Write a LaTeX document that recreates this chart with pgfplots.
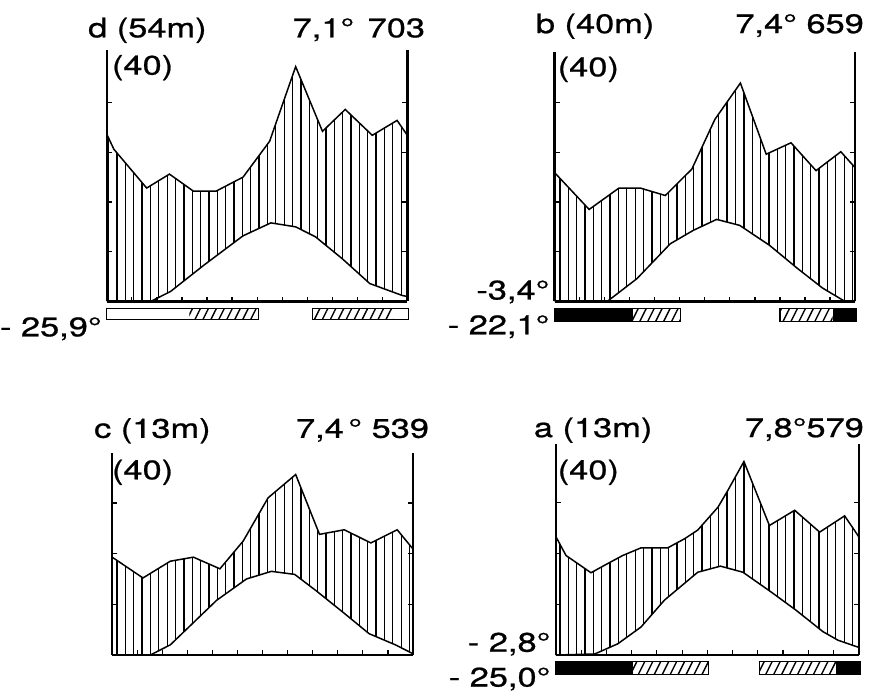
\documentclass[border=0pt]{standalone}
\usepackage{fontspec}
\setmainfont{TeX Gyre Heros}[FakeStretch=1.28, FakeBold=0.8]
\usepackage{pgfplots}
\pgfplotsset{compat=1.18}
\usepgfplotslibrary{fillbetween}
\usetikzlibrary{patterns}

\pgfdeclarepatternformonly{vl}{\pgfqpoint{-1pt}{-1pt}}{\pgfqpoint{1pt}{5pt}}{\pgfqpoint{8.4pt}{4pt}}{%
  \pgfsetlinewidth{1.3pt}%
  \pgfpathmoveto{\pgfqpoint{0pt}{-0.1pt}}%
  \pgfpathlineto{\pgfqpoint{0pt}{4.1pt}}%
  \pgfusepath{stroke}}
\pgfdeclarepatternformonly{dg}{\pgfqpoint{-1pt}{-1pt}}{\pgfqpoint{9pt}{17pt}}{\pgfqpoint{8pt}{16pt}}{%
  \pgfsetlinewidth{1.4pt}%
  \pgfpathmoveto{\pgfqpoint{0pt}{0pt}}%
  \pgfpathlineto{\pgfqpoint{8.05pt}{16.1pt}}%
  \pgfusepath{stroke}}

\pgfplotsset{
  panel/.style={
    scale only axis, xmin=0, xmax=12, ymin=0, clip=false,
    axis x line*=bottom, axis y line*=box,
    axis line style={line width=2.4pt},
    every outer x axis line/.append style={line width=3pt},
    every outer y axis line/.append style={line width=2.4pt},
    x axis line style={line width=3pt},
    y axis line style={line width=2.4pt},
    xtick={1,...,11}, ytick={10,20,30,40},
    xticklabels={}, yticklabels={},
    tick align=inside, major tick length=5pt,
    tick style={line width=1.2pt,black},
    anchor=south west,
  },
  curve/.style={black, line width=1.5pt, no markers},
  barout/.style={draw=black, line width=1.2pt},
}

\begin{document}
\begin{tikzpicture}[font=\fontsize{27}{31}\selectfont]
\path (0,0) rectangle (872pt,697pt);

% ---------------- d ----------------
\begin{axis}[panel, at={(103pt,394pt)}, width=302pt, height=253pt, ymax=50.6]
\addplot[curve, name path=up] coordinates {(0,33.6) (0.28,30.6) (1.59,22.8) (2.5,25.6) (3.45,22.2) (4.37,22.2) (5.44,25) (6.5,32.2) (7.54,47.2) (8.61,34.2) (9.52,38.6) (10.6,33.4) (11.59,36.4) (12,33.4)};
\addplot[curve, name path=lo] coordinates {(0,0) (1.75,0) (2.54,2) (3.85,7.2) (5.44,13.2) (6.55,15.8) (7.54,15) (8.33,13) (9.4,8.6) (10.5,3.6) (11.8,1.2) (12,1)};
\addplot[pattern=vl, draw=none] fill between[of=up and lo];
\addplot[pattern=dg, draw=none] coordinates {(3.3,-1.4) (6.07,-1.4) (6.07,-3.6) (3.3,-3.6)} --cycle;
\addplot[barout] coordinates {(0,-1.4) (6.07,-1.4) (6.07,-3.6) (0,-3.6)} --cycle;
\addplot[pattern=dg, draw=none] coordinates {(8.21,-1.4) (11.45,-1.4) (11.45,-3.6) (8.21,-3.6)} --cycle;
\addplot[barout] coordinates {(8.21,-1.4) (12.05,-1.4) (12.05,-3.6) (8.21,-3.6)} --cycle;
\end{axis}

% ---------------- b ----------------
\begin{axis}[panel, at={(553pt,394pt)}, width=302pt, height=251pt, ymax=50.2]
\addplot[curve, name path=up] coordinates {(0,25.9) (1.38,18.5) (2.57,22.8) (3.42,22.8) (4.42,21.3) (5.48,26.6) (6.4,36.6) (7.42,43.9) (8.45,29.6) (9.44,31.9) (10.44,26.3) (11.43,30.1) (12,26.9)};
\addplot[curve, name path=lo] coordinates {(0,0) (2.1,0) (3.29,4.6) (4.62,11.6) (5.54,14.3) (6.47,16.5) (7.39,15.3) (8.58,11.3) (9.71,6.6) (10.7,2.7) (11.6,0) (12,0)};
\addplot[pattern=vl, draw=none] fill between[of=up and lo];
\addplot[fill=black, draw=none] coordinates {(0,-1.4) (3.13,-1.4) (3.13,-4.0) (0,-4.0)} --cycle;
\addplot[pattern=dg, draw=none] coordinates {(3.13,-1.4) (5.04,-1.4) (5.04,-4.0) (3.13,-4.0)} --cycle;
\addplot[barout] coordinates {(0,-1.4) (5.04,-1.4) (5.04,-4.0) (0,-4.0)} --cycle;
\addplot[pattern=dg, draw=none] coordinates {(9.0,-1.4) (11.1,-1.4) (11.1,-4.0) (9.0,-4.0)} --cycle;
\addplot[fill=black, draw=none] coordinates {(11.1,-1.4) (12.05,-1.4) (12.05,-4.0) (11.1,-4.0)} --cycle;
\addplot[barout] coordinates {(9.0,-1.4) (12.05,-1.4) (12.05,-4.0) (9.0,-4.0)} --cycle;
\end{axis}

% ---------------- c ----------------
\begin{axis}[panel, at={(108.3pt,38.7pt)}, width=302.4pt, height=203.3pt, ymax=39.9, ytick={10,20,30}]
\addplot[curve, name path=up] coordinates {(0,19.3) (1.23,15.2) (2.32,18.5) (3.24,19.3) (4.3,17.0) (5.23,22.5) (6.22,31.0) (7.32,35.6) (8.27,23.8) (9.26,24.7) (10.32,22.1) (11.37,24.7) (12,20.9)};
\addplot[curve, name path=lo] coordinates {(0,0) (1.52,0) (2.32,2.0) (4.17,10.8) (5.36,15.0) (6.35,16.5) (7.28,15.9) (8.13,12.7) (9.19,8.5) (10.25,4.2) (11.3,2.0) (12,0.25)};
\addplot[pattern=vl, draw=none] fill between[of=up and lo];
\end{axis}

% ---------------- a ----------------
\begin{axis}[panel, at={(554.3pt,38.7pt)}, width=304.4pt, height=212.3pt, ymax=41.6, ytick={10,20,30}]
\addplot[curve, name path=up] coordinates {(0,23.3) (0.4,19.6) (1.39,16.2) (2.05,18.0) (2.65,19.6) (3.37,21.1) (4.43,21.1) (5.1,22.9) (5.62,24.6) (6.42,29.1) (6.8,32.3) (7.45,38.1) (8.46,25.5) (9.46,28.5) (10.45,24.2) (11.44,27.4) (12,23.3)};
\addplot[curve, name path=lo] coordinates {(0,0) (1.54,0.2) (2.45,2.2) (3.37,5.5) (4.3,10.8) (5.62,16.3) (6.52,17.5) (7.41,16.3) (8.53,12.4) (9.52,8.8) (10.58,4.6) (11.18,2.9) (12,1.5)};
\addplot[pattern=vl, draw=none] fill between[of=up and lo];
\addplot[fill=black, draw=none] coordinates {(0,-1.3) (3.05,-1.3) (3.05,-3.9) (0,-3.9)} --cycle;
\addplot[pattern=dg, draw=none] coordinates {(3.05,-1.3) (6.05,-1.3) (6.05,-3.9) (3.05,-3.9)} --cycle;
\addplot[barout] coordinates {(0,-1.3) (6.05,-1.3) (6.05,-3.9) (0,-3.9)} --cycle;
\addplot[pattern=dg, draw=none] coordinates {(8.07,-1.3) (11.1,-1.3) (11.1,-3.9) (8.07,-3.9)} --cycle;
\addplot[fill=black, draw=none] coordinates {(11.1,-1.3) (12.05,-1.3) (12.05,-3.9) (11.1,-3.9)} --cycle;
\addplot[barout] coordinates {(8.07,-1.3) (12.05,-1.3) (12.05,-3.9) (8.07,-3.9)} --cycle;
\end{axis}

% ---------------- texts ----------------
\node[anchor=base west, inner sep=0] at (84pt,659.5pt) {d (54m)};
\node[anchor=base east, inner sep=0] at (423pt,659.5pt) {7,1°\hspace{0.5em}703};
\node[anchor=base west, inner sep=0] at (108pt,622pt) {(40)};
\node[anchor=base east, inner sep=0] at (98pt,359pt) {- 25,9°};

\node[anchor=base west, inner sep=0] at (534pt,663.7pt) {b (40m)};
\node[anchor=base east, inner sep=0] at (864pt,663.7pt) {7,4° 659};
\node[anchor=base west, inner sep=0] at (556pt,620.3pt) {(40)};
\node[anchor=base east, inner sep=0] at (548pt,396pt) {-3,4°};
\node[anchor=base east, inner sep=0] at (548pt,361pt) {- 22,1°};

\node[anchor=base west, inner sep=0] at (90pt,257pt) {c (13m)};
\node[anchor=base east, inner sep=0] at (427pt,257pt) {7,4\,° 539};
\node[anchor=base west, inner sep=0] at (108pt,215.3pt) {(40)};

\node[anchor=base west, inner sep=0] at (532pt,257.7pt) {a (13m)};
\node[anchor=base east, inner sep=0] at (864pt,257.7pt) {7,8°579};
\node[anchor=base west, inner sep=0] at (556pt,215.3pt) {(40)};
\node[anchor=base east, inner sep=0] at (549pt,42pt) {- 2,8°};
\node[anchor=base east, inner sep=0] at (549pt,7pt) {- 25,0°};
\end{tikzpicture}
\end{document}
